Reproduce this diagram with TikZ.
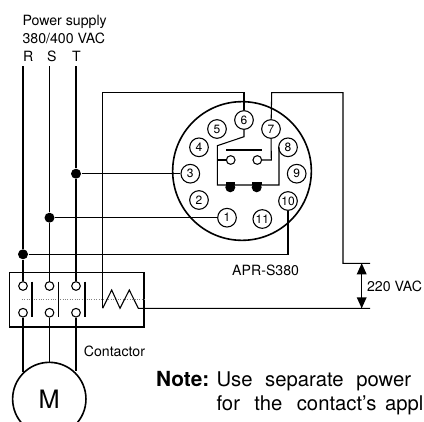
\documentclass[tikz,border=0pt]{standalone}
\usepackage{fontspec}
\setmainfont{TeX Gyre Heros}
\begin{document}
\begin{tikzpicture}[x=0.75pt,y=-0.75pt,line width=0.8pt]
\tikzstyle{pin}=[circle,draw=black,fill=white,minimum size=14pt,inner sep=0pt,font=\fontsize{9}{10}\selectfont]
\tikzstyle{term}=[circle,draw=black,fill=white,minimum size=6.5pt,inner sep=0pt]
\tikzstyle{junction}=[circle,fill=black,minimum size=7.5pt,inner sep=0pt]
\tikzstyle{label}=[anchor=base west,inner sep=0pt,font=\fontsize{10.6}{12}\selectfont]
\tikzstyle{note}=[anchor=base west,inner sep=0pt,font=\fontsize{15.2}{18}\selectfont]
\useasboundingbox (0,0) rectangle (424,421);
\node[circle,draw=black,line width=1.2pt,minimum size=104pt,inner sep=0pt] (socket) at (242,171) {};
\node[pin] (p1) at (227,217.7) {1};
\node[pin] (p2) at (199,200) {2};
\node[pin] (p3) at (190.3,173.7) {3};
\node[pin] (p4) at (199,147.3) {4};
\node[pin] (p5) at (217,129) {5};
\node[pin] (p6) at (244,120) {6};
\node[pin] (p7) at (271,129) {7};
\node[pin] (p8) at (288,147.3) {8};
\node[pin] (p9) at (296.7,173.7) {9};
\node[pin] (p10) at (288,201) {10};
\node[pin] (p11) at (262.3,219) {11};
\node[term] (c1) at (230.7,160) {};
\node[term] (c2) at (257.3,160) {};
\node[junction] (d1) at (230.3,187.3) {};
\node[junction] (d2) at (256.7,187.3) {};
\coordinate (k1) at (217.3,145.7);
\coordinate (k2) at (217.3,185);
\coordinate (k3) at (279,185);
\coordinate (k4) at (279,148);
\coordinate (k5) at (217.3,160);
\coordinate (k6) at (271.3,160);
\draw (p6) -- (244,136.7) -- (k1) -- (k2) -- (k3) -- (k4) -- (p8);
\draw (k5) -- (c1);
\draw (c2) -- (k6) -- (p7);
\draw[line width=1.3pt] (226,150) -- (262,150);
\draw[line width=2pt] (226,183.5) -- (235,183.5);
\draw[line width=2pt] (252,183.5) -- (261.5,183.5);
\node[inner sep=0pt] (rtop) at (23,65) {};
\node[inner sep=0pt] (stop) at (49.5,65) {};
\node[inner sep=0pt] (ttop) at (76,65) {};
\node[junction] (jr) at (23,254.3) {};
\node[junction] (js) at (49.5,217.7) {};
\node[junction] (jt) at (76,173.7) {};
\node[draw=black,line width=1.2pt,minimum width=100.8pt,minimum height=41.2pt,inner sep=0pt] (contactor) at (76.5,299.8) {};
\draw[densely dotted,gray] (21.7,299.3) -- (146,299.3);
\node[term] (t1) at (23,286) {};
\node[term] (t2) at (49.5,286) {};
\node[term] (t3) at (76,286) {};
\node[term] (b1) at (23,312.7) {};
\node[term] (b2) at (49.5,312.7) {};
\node[term] (b3) at (76,312.7) {};
\draw[line width=1.2pt] (31.7,281.7) -- (31.7,317.3);
\draw[line width=1.2pt] (58.3,281.7) -- (58.3,317.3);
\draw[line width=1.2pt] (85,281.7) -- (85,317.3);
\draw (rtop) -- (jr) -- (t1);
\draw (stop) -- (js) -- (t2);
\draw (ttop) -- (jt) -- (t3);
\draw (jt) -- (p3);
\draw (js) -- (p1);
\draw (jr) -- (288,254.3) -- (p10);
\coordinate (coilin) at (102.7,308.3);
\coordinate (coilout) at (138.3,308.3);
\coordinate (r1) at (370,263.3);
\coordinate (r2) at (370,308.3);
\coordinate (a1) at (361.7,263.3);
\coordinate (a2) at (361.7,308.3);
\draw (p6) -- (244,92.5) -- (102.7,92.5) -- (coilin);
\draw (coilin) -- (111.7,290) -- (120,308.3) -- (129.3,290) -- (coilout) -- (r2);
\draw (p7) -- (271.7,92.7) -- (343,92.7) -- (343,263.3) -- (r1);
\draw (a1) -- (a2);
\fill (a1) -- ++(5,11) -- ++(-10,0) -- cycle;
\fill (a2) -- ++(5,-11) -- ++(-10,0) -- cycle;
\begin{scope}
\clip (0,0) rectangle (424,421);
\node[circle,draw=black,line width=1.2pt,minimum size=55pt,inner sep=0pt,font=\fontsize{19}{22}\selectfont] (motor) at (49.3,399) {M};
\end{scope}
\draw (b1) -- (23,371.7);
\draw (b2) -- (49.5,362.3);
\draw (b3) -- (76,370.7);
\node[label] (title1) at (22,26) {Power supply};
\node[label] (title2) at (22,43.3) {380/400 VAC};
\node[label] (lr) at (22.5,61) {R};
\node[label] (ls) at (46.5,61) {S};
\node[label] (lt) at (71.5,61) {T};
\node[label] (lcontactor) at (83.3,356) {Contactor};
\node[label] (lapr) at (231.7,275) {APR-S380};
\node[label] (lvac) at (366.5,291.7) {220 VAC};
\node[note,font=\fontsize{15.6}{18}\selectfont\bfseries] (note) at (155.7,386.7) {Note:};
\node[note] (n1) at (216,386.7) {Use\hspace{9.5pt}separate\hspace{9.5pt}power};
\node[note] (n2) at (216,410) {for\hspace{10.8pt}the\hspace{10.8pt}contact's};
\node[note] (n3) at (384.5,410) {appl};
\end{tikzpicture}
\end{document}
